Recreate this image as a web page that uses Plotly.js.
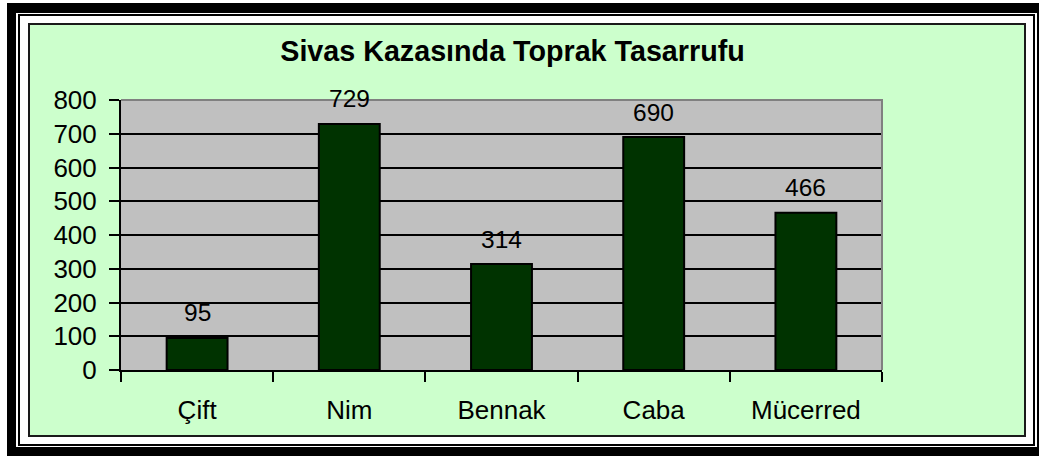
<!DOCTYPE html>
<html>
<head>
<meta charset="utf-8">
<script src="https://cdn.plot.ly/plotly-3.0.1.min.js"></script>
<style>html,body{margin:0;padding:0;background:#fff;}#chart{width:1039px;height:456px;}</style>
</head>
<body>
<div id="chart"></div>
<script>
const categories = ["Çift", "Nim", "Bennak", "Caba", "Mücerred"];
const values = [95, 729, 314, 690, 466];
const yTicks = [0, 100, 200, 300, 400, 500, 600, 700, 800];
const chartTitle = "Sivas Kazasında Toprak Tasarrufu";

const W = 1039, H = 456;
const L = 121, R = 882, T = 100, B = 370;
const px = x => (x - L) / (R - L);
const py = y => (B - y) / (B - T);
const FONT = 'Liberation Sans, Arial, sans-serif';

const shapes = [
  {type:'rect', xref:'paper', yref:'paper', layer:'below', x0:px(7), x1:px(1050), y0:py(470), y1:py(3), fillcolor:'#000', line:{width:0}},
  {type:'rect', xref:'paper', yref:'paper', layer:'below', x0:px(16), x1:px(1037), y0:py(447), y1:py(13), fillcolor:'#fff', line:{width:0}},
  {type:'rect', xref:'paper', yref:'paper', layer:'below', x0:px(19), x1:px(1034), y0:py(445), y1:py(15), line:{color:'#000', width:2}},
  {type:'rect', xref:'paper', yref:'paper', layer:'below', x0:px(29), x1:px(1025), y0:py(436), y1:py(24), fillcolor:'#CCFFCC', line:{color:'#1a1a1a', width:2}},
  {type:'rect', xref:'paper', yref:'paper', layer:'below', x0:0, x1:1, y0:0, y1:1, fillcolor:'#C0C0C0', line:{width:0}},
  {type:'path', xref:'paper', yref:'paper', layer:'above', path:'M 0 1 L 1 1 L 1 0', line:{color:'#808080', width:2}}
];

const annotations = categories.map((c, i) => ({
  x: c, y: values[i], xref:'x', yref:'y', text: String(values[i]),
  showarrow:false, yanchor:'middle', yshift:25,
  font:{family:FONT, size:24.5, color:'#000'}
}));

const trace = {
  type:'bar', x: categories, y: values, width:0.4,
  marker:{color:'#003300', line:{color:'#000', width:2}},
  hoverinfo:'none'
};

const layout = {
  width:W, height:H,
  margin:{l:L, r:W-R, t:T, b:H-B, pad:0},
  paper_bgcolor:'#fff', plot_bgcolor:'rgba(0,0,0,0)',
  showlegend:false,
  title:{text:chartTitle, x:512.5/W, xanchor:'center', xref:'container', yref:'container', y:1-51/H, yanchor:'middle',
    font:{family:FONT, size:28.7, weight:'bold', color:'#000'}},
  xaxis:{type:'category', tickson:'boundaries', ticks:'outside', ticklen:10, tickwidth:2, tickcolor:'#000',
    showline:true, linecolor:'#000', linewidth:2, showgrid:false, zeroline:false,
    ticklabelstandoff:16,
    tickfont:{family:FONT, size:26, color:'#000'}},
  yaxis:{range:[0,800], tickvals:yTicks, ticktext:yTicks.map(String), ticks:'outside', ticklen:10, tickwidth:2, tickcolor:'#000',
    showline:true, linecolor:'#000', linewidth:2, showgrid:true, gridcolor:'#000', gridwidth:2, zeroline:false,
    ticklabelstandoff:7,
    tickfont:{family:FONT, size:26, color:'#000'}},
  shapes:shapes, annotations:annotations
};

Plotly.newPlot('chart', [trace], layout, {displayModeBar:false, staticPlot:true});
</script>
</body>
</html>
